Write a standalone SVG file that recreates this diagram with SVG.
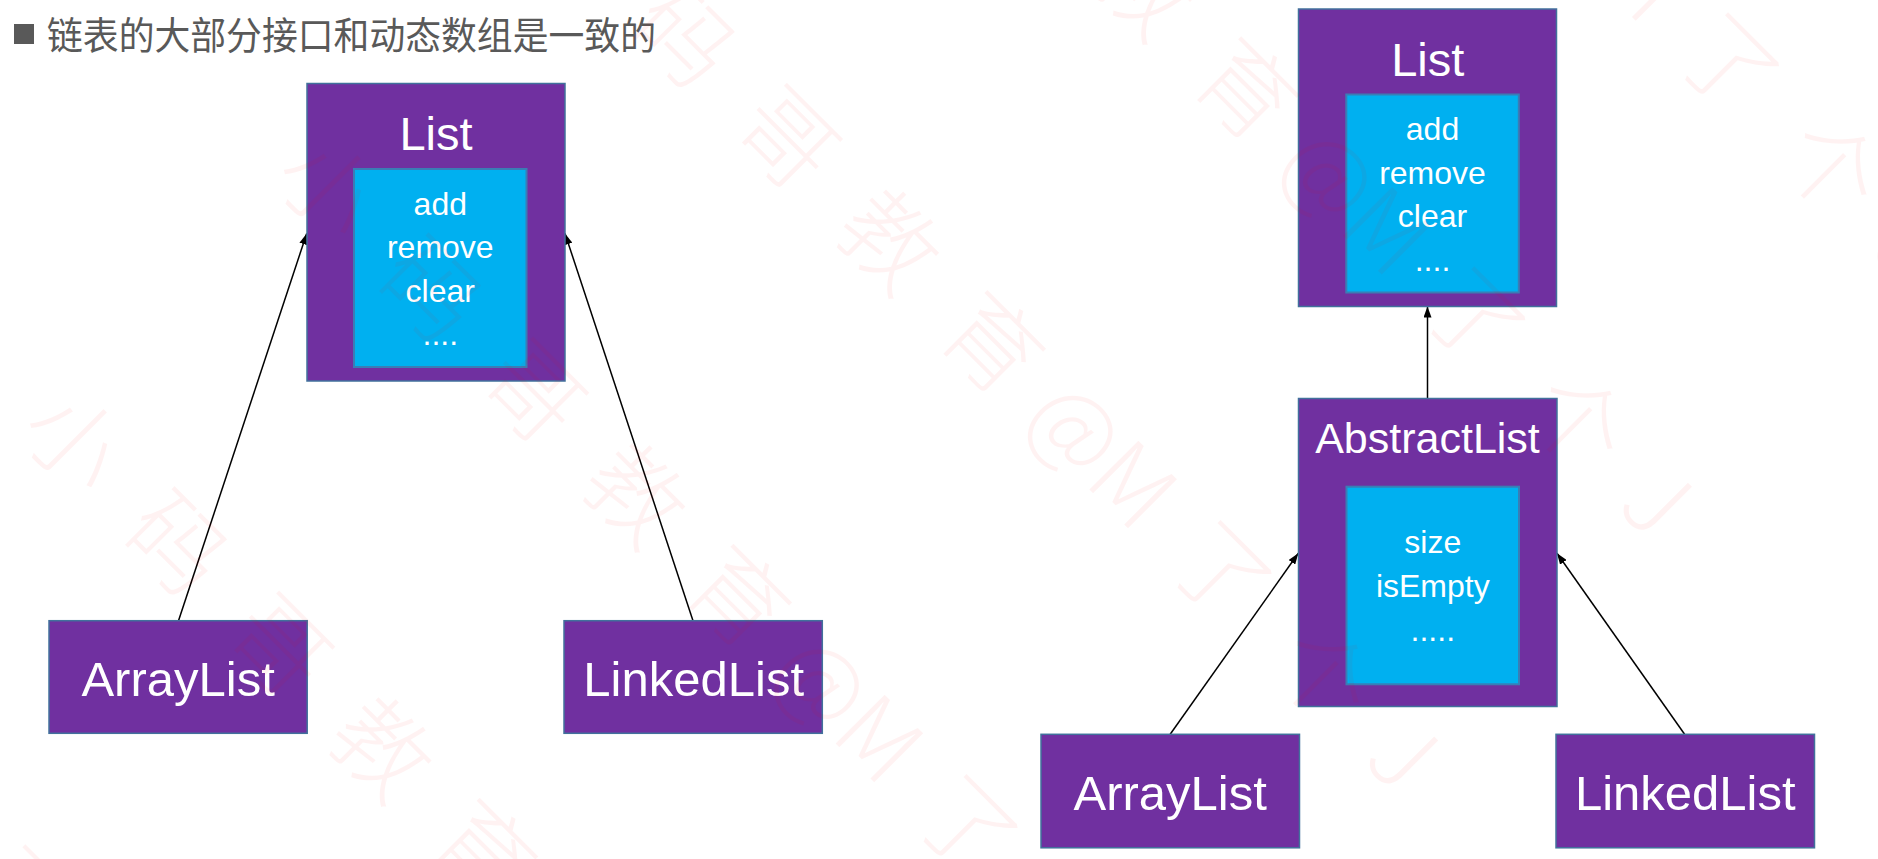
<svg xmlns="http://www.w3.org/2000/svg" width="1878" height="859" viewBox="0 0 1878 859">
<style>
.outer{fill:#7030A0;stroke:#41719C;stroke-width:1.5}
.inner{fill:#00B0F0;stroke:#3A7DB5;stroke-width:2}
.t{font-family:"Liberation Sans",Arial,sans-serif;fill:#FFFFFF;text-anchor:middle}
.title{font-size:47px}
.item{font-size:32px}
.leaf{font-size:49px}
.conn{stroke:#000000;stroke-width:1.5;fill:none;marker-end:url(#arrow)}
.wm{font-family:"Noto Sans CJK SC","Noto Sans",sans-serif;font-size:95px;font-weight:300;fill:#FF0000;fill-opacity:0.05}
</style>
<defs>
<marker id="arrow" markerUnits="userSpaceOnUse" markerWidth="11" markerHeight="8" refX="11" refY="4" orient="auto">
<path d="M0,0 L11,4 L0,8 z" fill="#000000"/>
</marker>
</defs>
<rect width="1878" height="859" fill="#FFFFFF"/>
<g id="heading">
<rect x="14" y="24" width="20" height="20" fill="#595959"/>
<text x="47" y="49" font-family="'Noto Sans CJK SC','Noto Sans',sans-serif" font-size="38" fill="#595959" textLength="609" lengthAdjust="spacingAndGlyphs">链表的大部分接口和动态数组是一致的</text>
</g>
<g id="connectors">
<line class="conn" x1="178.5" y1="620.7" x2="306.7" y2="233.5"/>
<line class="conn" x1="693" y1="620.7" x2="565" y2="233.5"/>
<line class="conn" x1="1427.5" y1="398.5" x2="1427.5" y2="306.5"/>
<line class="conn" x1="1170.2" y1="734.3" x2="1298.3" y2="553.3"/>
<line class="conn" x1="1684.6" y1="734.3" x2="1557" y2="553.3"/>
</g>
<g id="list-left">
<rect class="outer" x="307" y="83.5" width="258" height="297.5"/>
<text class="t title" x="436" y="150">List</text>
<rect class="inner" x="354" y="169" width="172.5" height="198"/>
<text class="t item" x="440.3" y="214.5">add</text>
<text class="t item" x="440.3" y="258">remove</text>
<text class="t item" x="440.3" y="301.5">clear</text>
<text class="t item" x="440.3" y="345">....</text>
</g>
<g id="arraylist-left">
<rect class="outer" x="49" y="620.7" width="258.2" height="112.6"/>
<text class="t leaf" x="178.1" y="695.7">ArrayList</text>
</g>
<g id="linkedlist-left">
<rect class="outer" x="564" y="620.7" width="258.3" height="112.6"/>
<text class="t leaf" x="693.7" y="695.7">LinkedList</text>
</g>
<g id="list-right">
<rect class="outer" x="1298.5" y="9" width="258" height="297.5"/>
<text class="t title" x="1427.7" y="75.5">List</text>
<rect class="inner" x="1346.3" y="94.5" width="172.5" height="198"/>
<text class="t item" x="1432.5" y="139.8">add</text>
<text class="t item" x="1432.5" y="183.5">remove</text>
<text class="t item" x="1432.5" y="227.3">clear</text>
<text class="t item" x="1432.5" y="270.5">....</text>
</g>
<g id="abstractlist">
<rect class="outer" x="1298.5" y="398.5" width="258.5" height="308"/>
<text class="t" x="1427.5" y="453.3" font-size="43">AbstractList</text>
<rect class="inner" x="1346.5" y="486.7" width="172.5" height="197.6"/>
<text class="t item" x="1432.8" y="553.3">size</text>
<text class="t item" x="1432.8" y="596.7">isEmpty</text>
<text class="t item" x="1432.8" y="640.7">.....</text>
</g>
<g id="arraylist-right">
<rect class="outer" x="1041" y="734.3" width="258.5" height="113.5"/>
<text class="t leaf" x="1170.2" y="810">ArrayList</text>
</g>
<g id="linkedlist-right">
<rect class="outer" x="1556" y="734.3" width="258.5" height="113.5"/>
<text class="t leaf" x="1685.3" y="810">LinkedList</text>
</g>
<g id="watermark" transform="rotate(45)">
<text class="wm" x="317" y="653">小<tspan dx="50">码</tspan><tspan dx="50">哥</tspan><tspan dx="50">教</tspan><tspan dx="50">育</tspan><tspan dx="28">@M</tspan><tspan dx="40">了</tspan><tspan dx="50">个</tspan><tspan dx="40">J</tspan></text>
<text class="wm" x="317" y="294">小<tspan dx="50">码</tspan><tspan dx="50">哥</tspan><tspan dx="50">教</tspan><tspan dx="50">育</tspan><tspan dx="28">@M</tspan><tspan dx="40">了</tspan><tspan dx="50">个</tspan><tspan dx="40">J</tspan></text>
<text class="wm" x="317" y="-65">小<tspan dx="50">码</tspan><tspan dx="50">哥</tspan><tspan dx="50">教</tspan><tspan dx="50">育</tspan><tspan dx="28">@M</tspan><tspan dx="40">了</tspan><tspan dx="50">个</tspan><tspan dx="40">J</tspan></text>
<text class="wm" x="317" y="-424">小<tspan dx="50">码</tspan><tspan dx="50">哥</tspan><tspan dx="50">教</tspan><tspan dx="50">育</tspan><tspan dx="28">@M</tspan><tspan dx="40">了</tspan><tspan dx="50">个</tspan><tspan dx="40">J</tspan></text>
<text class="wm" x="317" y="-783">小<tspan dx="50">码</tspan><tspan dx="50">哥</tspan><tspan dx="50">教</tspan><tspan dx="50">育</tspan><tspan dx="28">@M</tspan><tspan dx="40">了</tspan><tspan dx="50">个</tspan><tspan dx="40">J</tspan></text>
<text class="wm" x="317" y="-1142">小<tspan dx="50">码</tspan><tspan dx="50">哥</tspan><tspan dx="50">教</tspan><tspan dx="50">育</tspan><tspan dx="28">@M</tspan><tspan dx="40">了</tspan><tspan dx="50">个</tspan><tspan dx="40">J</tspan></text>
</g>
</svg>
